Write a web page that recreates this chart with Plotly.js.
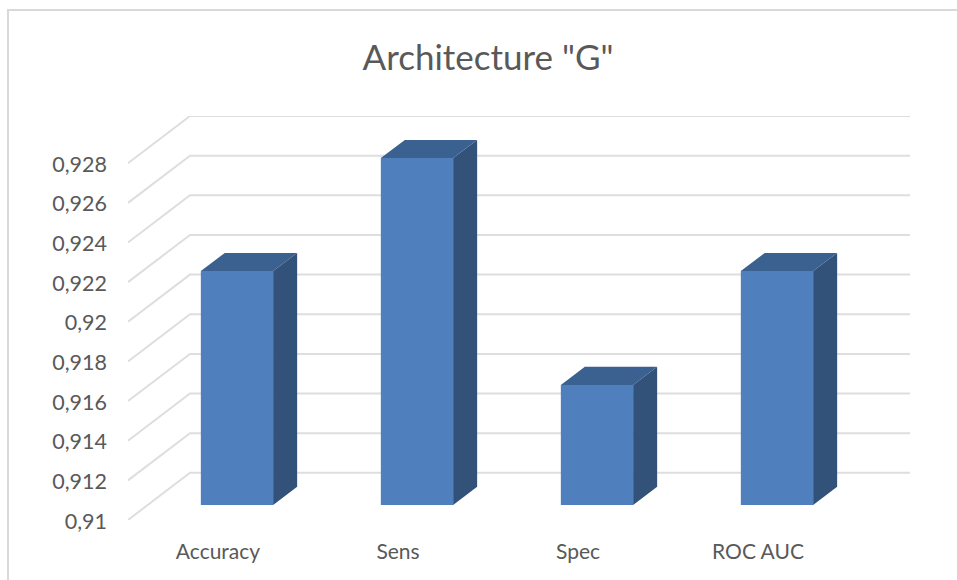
<!DOCTYPE html>
<html>
<head>
<meta charset="utf-8">
<script src="https://cdn.plot.ly/plotly-3.0.1.min.js"></script>
<style>
  html, body { margin: 0; padding: 0; background: #fff; width: 957px; height: 580px; overflow: hidden; }
  #frame { position: absolute; left: 7px; top: 9px; width: 980px; height: 600px; border: 2px solid #d9d9d9; box-sizing: border-box; }
  #chart { position: absolute; left: 0; top: 0; width: 957px; height: 580px; }
</style>
</head>
<body>
<div id="frame"></div>
<div id="chart"></div>
<script>
// Model scores for architecture "G"
const categories = ['Accuracy', 'Sens', 'Spec', 'ROC AUC'];
const scores = [0.9218, 0.9275, 0.91605, 0.9218];
const yTicks = [0.91, 0.912, 0.914, 0.916, 0.918, 0.92, 0.922, 0.924, 0.926, 0.928];
const yTickLabels = ['0,91', '0,912', '0,914', '0,916', '0,918', '0,92', '0,922', '0,924', '0,926', '0,928'];

// Oblique projection offsets, in axis units
const floorY = 0.91;
const wall = { dx: 0.3444, dy: 0.00238 };
const barFront = { dx: 0.1055, dy: 0.000755 };
const barDepth = { dx: 0.1333, dy: 0.00092 };
const barWidth = 0.4017;

const xPositions = categories.map((_, i) => i);
const barCentres = xPositions.map(x => x + barFront.dx);
const baseline = floorY + barFront.dy;

// Top and side faces of each column, as closed polygons separated by gaps
const sideX = [], sideY = [], topX = [], topY = [];
scores.forEach((v, i) => {
  const right = barCentres[i] + barWidth / 2;
  const left = barCentres[i] - barWidth / 2;
  const top = v + barFront.dy;
  sideX.push(right, right + barDepth.dx, right + barDepth.dx, right, right, null);
  sideY.push(baseline, baseline + barDepth.dy, top + barDepth.dy, top, baseline, null);
  topX.push(left, left + barDepth.dx, right + barDepth.dx, right, left, null);
  topY.push(top, top + barDepth.dy, top + barDepth.dy, top, top, null);
});

const traces = [
  {
    type: 'bar',
    x: barCentres,
    y: scores.map(v => v - floorY),
    base: baseline,
    width: barWidth,
    marker: { color: '#4f80bd', line: { width: 0 } },
    hoverinfo: 'skip'
  },
  {
    type: 'scatter', mode: 'lines', x: sideX, y: sideY, fill: 'toself',
    fillcolor: '#325279', line: { width: 0, color: '#325279' }, hoverinfo: 'skip'
  },
  {
    type: 'scatter', mode: 'lines', x: topX, y: topY, fill: 'toself',
    fillcolor: '#3a618f', line: { width: 0, color: '#3a618f' }, hoverinfo: 'skip'
  }
];

// Floor-to-wall gridlines: a diagonal from the front edge, then along the back wall
const xLeft = -0.5;
const xRight = 3.5 + wall.dx;
const gridShapes = yTicks.map(t => ({
  type: 'path',
  layer: 'below',
  xref: 'x',
  yref: 'y',
  path: `M ${xLeft} ${t} L ${xLeft + wall.dx} ${t + wall.dy} L ${xRight} ${t + wall.dy}`,
  line: { color: '#dedede', width: 2 }
}));

const font = 'Lato, Carlito, "Open Sans", sans-serif';
const layout = {
  width: 957,
  height: 580,
  margin: { l: 128, r: 47, t: 115.7, b: 60, pad: 0 },
  paper_bgcolor: 'rgba(0,0,0,0)',
  plot_bgcolor: 'rgba(0,0,0,0)',
  showlegend: false,
  title: {
    text: 'Architecture "G"',
    font: { family: font, size: 35, color: '#595959' },
    x: 488 / 957,
    xanchor: 'center',
    y: 1 - 58 / 580,
    yanchor: 'middle'
  },
  xaxis: {
    range: [xLeft, xRight],
    tickvals: xPositions,
    ticktext: categories,
    ticklabelstandoff: 17,
    showgrid: false,
    zeroline: false,
    showline: false,
    ticks: '',
    tickfont: { family: font, size: 21, color: '#595959' }
  },
  yaxis: {
    range: [floorY, 0.928 + wall.dy],
    tickvals: yTicks,
    ticktext: yTickLabels,
    ticklabelstandoff: 20,
    ticklabelshift: 1,
    showgrid: false,
    zeroline: false,
    showline: false,
    ticks: '',
    tickfont: { family: font, size: 21.5, color: '#595959' }
  },
  shapes: gridShapes
};

Plotly.newPlot('chart', traces, layout, { displayModeBar: false, staticPlot: true });
</script>
</body>
</html>
